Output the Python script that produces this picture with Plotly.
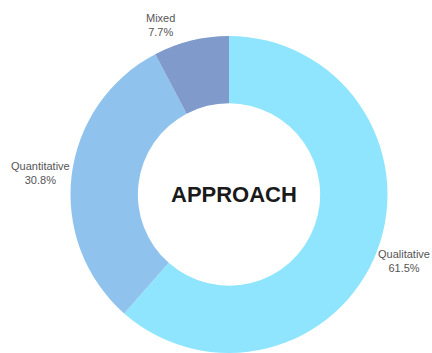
import math
import plotly.graph_objects as go

labels = ["Qualitative", "Quantitative", "Mixed"]
values = [61.5, 30.8, 7.7]
colors = ["#8fe5fd", "#8fc2ec", "#7f9acb"]
center_title = "APPROACH"

W, H = 432, 353
M = dict(l=26, r=0, t=36, b=0)
# label pixel offsets from the slice edge midpoint (style only)
label_shift = [(27, -10), (-31, 3), (-31, 16)]

fig = go.Figure(go.Pie(
    labels=labels,
    values=values,
    hole=0.575,
    sort=False,
    direction="clockwise",
    rotation=0,
    marker=dict(colors=colors, line=dict(width=0)),
    textinfo="none",
    showlegend=False,
    hoverinfo="label+percent",
))

pw = W - M["l"] - M["r"]
ph = H - M["t"] - M["b"]
R = min(pw, ph) / 2
total = sum(values)
annots = []
cum = 0.0
for lab, v, (sx, sy) in zip(labels, values, label_shift):
    mid = (cum + v / 2) / total * 2 * math.pi
    cum += v
    dx, dy = math.sin(mid), -math.cos(mid)  # screen direction (y down)
    annots.append(dict(
        text="%s<br>%.1f%%" % (lab, v / total * 100),
        x=0.5 + dx * R / pw, y=0.5 - dy * R / ph,
        xref="paper", yref="paper", showarrow=False,
        xanchor="center", yanchor="middle", align="center",
        xshift=sx, yshift=sy,
        font=dict(family="Liberation Sans, Arial", size=11, color="#555555"),
    ))

annots.append(dict(
    text="<b>%s</b>" % center_title, x=0.5, y=0.5, xref="paper", yref="paper",
    showarrow=False, xshift=5,
    font=dict(family="Liberation Sans, Arial", size=22, color="#1a1a1a"),
))

fig.update_layout(
    width=W, height=H,
    margin=M,
    paper_bgcolor="white",
    annotations=annots,
)

fig.write_html("out.html")
